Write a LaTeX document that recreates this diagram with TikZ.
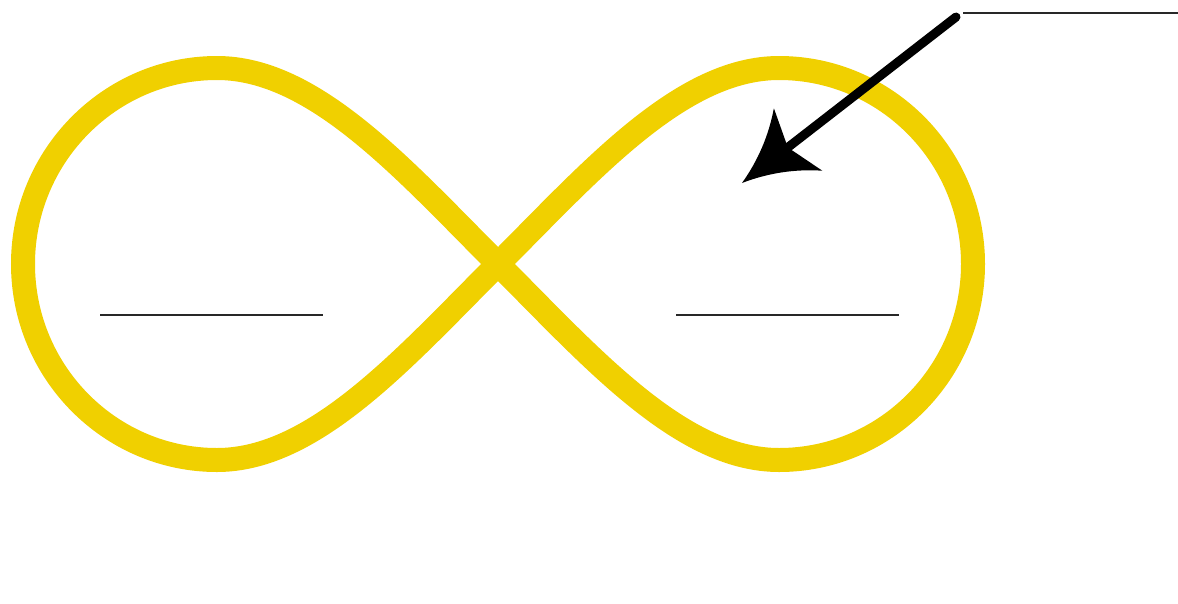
\documentclass[tikz,border=0pt]{standalone}
\usepackage{tikz}
\usetikzlibrary{arrows.meta}
\definecolor{loopyellow}{RGB}{240,208,0}
\definecolor{blankgray}{RGB}{40,40,40}
% swept head with slightly hollow sides
\pgfdeclarearrow{
  name = Swept,
  setup code = {
    \pgfarrowssettipend{0pt}
    \pgfarrowssetlineend{-50pt}
    \pgfarrowssetbackend{-71pt}
    \pgfarrowssetvisualbackend{-58pt}
  },
  drawing code = {
    \pgfpathmoveto{\pgfpoint{0pt}{0pt}}
    \pgfpathcurveto{\pgfpoint{-26.6pt}{8pt}}{\pgfpoint{-50.2pt}{21.1pt}}{\pgfpoint{-71pt}{39.5pt}}
    \pgfpathlineto{\pgfpoint{-58pt}{0pt}}
    \pgfpathlineto{\pgfpoint{-71pt}{-39.5pt}}
    \pgfpathcurveto{\pgfpoint{-50.2pt}{-21.1pt}}{\pgfpoint{-26.6pt}{-8pt}}{\pgfpoint{0pt}{0pt}}
    \pgfpathclose
    \pgfusepathqfill
  }
}

\begin{document}
\begin{tikzpicture}[x=1pt, y=-1pt,
                    loopline/.style={draw=loopyellow, line width=24pt, line join=miter},
                    blank/.style={draw=blankgray, line width=1.1pt},
                    pointer/.style={line width=9pt, line cap=round, -Swept}]
  \useasboundingbox (0,0) rectangle (1178,603);
  % figure eight, one loop each side of the waist
  \coordinate (waist) at (498,264);
  \begin{scope}
    \clip (0,0) rectangle (498,603);
    \draw[loopline] (waist) .. controls (405,171) and (315,68) .. (217,68)
      .. controls (110,68) and (23,156) .. (23,264)
      .. controls (23,372) and (110,460) .. (217,460)
      .. controls (315,460) and (405,357) .. cycle;
  \end{scope}
  \begin{scope}
    \clip (498,0) rectangle (1178,603);
    \draw[loopline] (waist) .. controls (591,171) and (681,68) .. (779,68)
      .. controls (886,68) and (973,156) .. (973,264)
      .. controls (973,372) and (886,460) .. (779,460)
      .. controls (681,460) and (591,357) .. cycle;
  \end{scope}
  % pointer and blanks
  \coordinate (ptrfrom) at (956,17);
  \coordinate (ptrto) at (742,183);
  \draw[pointer] (ptrfrom) -- (ptrto);
  \coordinate (topa) at (963,13);
  \coordinate (topb) at (1178,13);
  \draw[blank] (topa) -- (topb);
  \coordinate (lefta) at (100,315);
  \coordinate (leftb) at (323,315);
  \draw[blank] (lefta) -- (leftb);
  \coordinate (righta) at (676,315);
  \coordinate (rightb) at (899,315);
  \draw[blank] (righta) -- (rightb);
\end{tikzpicture}
\end{document}
